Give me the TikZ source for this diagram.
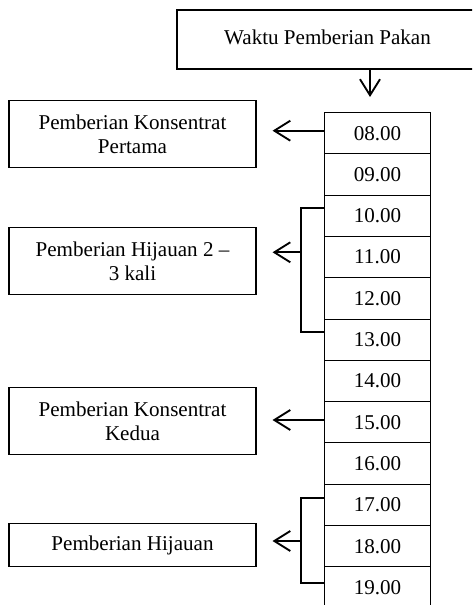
\documentclass[tikz,border=0pt]{standalone}
\usepackage{fontspec}
\setmainfont{Liberation Serif}
\usetikzlibrary{arrows.meta}
\begin{document}
\begin{tikzpicture}[x=0.75pt,y=-0.75pt,
  every node/.style={font=\fontsize{15.8}{17.3}\selectfont},
  cell/.style={draw,line width=0.8pt,inner sep=0pt,minimum width=106*0.75pt,minimum height=41.3*0.75pt,anchor=north west},
  lbox/.style={draw,line width=0.8pt,inner sep=0pt,align=center,minimum width=247*0.75pt},
  arr/.style={line width=1.4pt,-{Straight Barb[length=12pt,width=15pt,line width=1.4pt]}},
  brk/.style={line width=1.4pt}]
\useasboundingbox (0,0) rectangle (472,605);
\clip (0,0) rectangle (472,605);
% top box
\node[draw,line width=0.8pt,minimum width=301*0.75pt,minimum height=59*0.75pt,inner sep=0pt] (top) at (327.5,39.5) {\raisebox{3pt}{Waktu Pemberian Pakan}};
% time cells
\foreach \t [count=\i from 0] in {08,09,10,11,12,13,14,15,16,17,18,19}{
  \node[cell] (t\t) at (324,{112+41.3*\i}) {\raisebox{-1.5pt}{\t.00}};
}
% left boxes
\node[lbox,minimum height=66.7*0.75pt] (b1) at (132.5,134.3) {Pemberian Konsentrat\\Pertama};
\node[lbox,minimum height=67.3*0.75pt] (b2) at (132.5,261.3) {Pemberian Hijauan 2 --\\3 kali};
\node[lbox,minimum height=67.3*0.75pt] (b3) at (132.5,421.3) {Pemberian Konsentrat\\Kedua};
\node[lbox,minimum height=42.7*0.75pt] (b4) at (132.5,545.3) {Pemberian Hijauan};
% down arrow
\coordinate (d0) at (370,69);
\coordinate (d1) at (370,97);
\draw[arr] (d0) -- (d1);
% arrow 08
\coordinate (a1) at (324,130.7);
\draw[arr,shorten >=12pt] (a1) -- (a1 -| b1.east);
% bracket 10-13
\coordinate (k1a) at (324,207.7);
\coordinate (k1b) at (324,332.3);
\coordinate (k1m) at (301,252.3);
\draw[brk] (k1a) -- ++(-23,0) |- (k1b);
\draw[arr,shorten >=12pt] (k1m) -- (k1m -| b2.east);
% arrow 15
\coordinate (a3) at (325,420);
\draw[arr,shorten >=12pt] (a3) -- (a3 -| b3.east);
% bracket 17-19
\coordinate (k2a) at (324,497.7);
\coordinate (k2b) at (324,583);
\coordinate (k2m) at (301,541);
\draw[brk] (k2a) -- ++(-23,0) |- (k2b);
\draw[arr,shorten >=12pt] (k2m) -- (k2m -| b4.east);
\end{tikzpicture}
\end{document}
